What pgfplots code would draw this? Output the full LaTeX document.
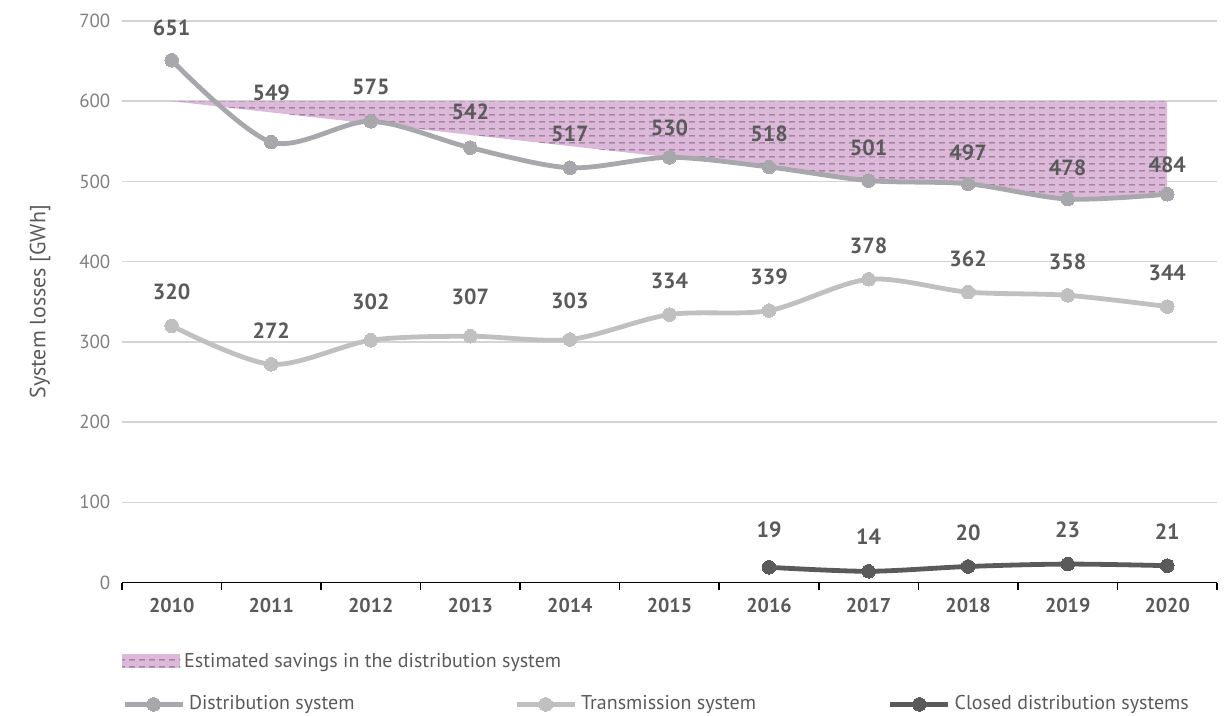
\documentclass[border=0pt]{standalone}
\usepackage{fontspec}
\setmainfont{PT Sans}
\usepackage{pgfplots}
\pgfplotsset{compat=1.18}
\usetikzlibrary{patterns.meta}
\definecolor{distc}{HTML}{A8A8AC}
\definecolor{transc}{HTML}{C0C0C0}
\definecolor{closedc}{HTML}{5A5A5A}
\definecolor{labc}{HTML}{5A5A5A}
\definecolor{tickc}{HTML}{7F7F7F}
\definecolor{gridc}{HTML}{D4D4D4}
\definecolor{pinkc}{HTML}{DDB9D9}
\definecolor{dashc}{HTML}{806884}
\pgfdeclarepattern{
  name=hdashes,
  type=uncolored,
  bottom left={\pgfpoint{0pt}{0pt}},
  top right={\pgfpoint{5pt}{3.3pt}},
  tile size={\pgfpoint{5pt}{3.3pt}},
  code={\pgfsetlinewidth{0.45pt}\pgfpathmoveto{\pgfpoint{0pt}{1.65pt}}\pgfpathlineto{\pgfpoint{3pt}{1.65pt}}\pgfusepath{stroke}}
}
\pgfplotstableread{
x y dy
0 651 16
1 549 24.5
2 575 17
3 542 18
4 517 17
5 530 15
6 518 16.5
7 501 16.5
8 497 15.5
9 478 15.5
10 484 14.5
}\distdata
\pgfplotstableread{
x y dy
0 320 17
1 272 17
2 302 19
3 307 19.5
4 303 19.5
5 334 17
6 339 17
7 378 17
8 362 16.5
9 358 17
10 344 17
}\transdata
\pgfplotstableread{
x y dy
6 19 19
7 14 17.5
8 20 17
9 23 17
10 21 17
}\closeddata
\pgfplotsset{
  lineimg/.style={legend image code/.code={\draw[##1, mark repeat=2, mark phase=2] plot coordinates {(0pt,0pt) (14.5pt,0pt) (29pt,0pt)};}},
  areaimg/.style={legend image code/.code={\path[##1] (0pt,-3.5pt) rectangle (29pt,3.5pt);}},
  labs/.style={nodes near coords,
    visualization depends on={\thisrow{dy} \as \dy},
    every node near coord/.append style={font=\bfseries\fontsize{11}{13}\selectfont, text=labc, anchor=center, yshift=\dy pt}},
}
\begin{document}
\begin{tikzpicture}
\path[use as bounding box] (-61pt,-66.5pt) rectangle (554pt,291.5pt);
\begin{axis}[
  scale only axis, width=548pt, height=281pt,
  xmin=-0.5, xmax=10.5, ymin=0, ymax=700,
  axis x line*=bottom, axis y line*=left,
  y axis line style={draw=none},
  x axis line style={black, line width=0.8pt},
  xtick={0,1,2,3,4,5,6,7,8,9,10},
  xticklabels={2010,2011,2012,2013,2014,2015,2016,2017,2018,2019,2020},
  major x tick style={draw=none},
  minor xtick={-0.5,0.5,1.5,2.5,3.5,4.5,5.5,6.5,7.5,8.5,9.5,10.5},
  minor x tick style={black, line width=0.8pt},
  minor tick length=3.5pt, tick align=outside,
  ytick={0,100,...,700},
  major y tick style={draw=none},
  ymajorgrids, grid style={gridc, line width=0.8pt},
  /pgf/number format/assume math mode=true,
  xticklabel style={font=\bfseries\fontsize{10}{12}\selectfont, text=labc},
  yticklabel style={font=\fontsize{9.5}{11}\selectfont, text=tickc, xshift=2pt},
  ylabel={System losses [GWh]},
  every axis y label/.style={at={(axis description cs:-0.0748,0.5)}, rotate=90, anchor=center, font=\fontsize{11}{13}\selectfont, text=labc},
  legend style={at={(axis description cs:0,-0.217)}, anchor=west, draw=none, fill=none, inner sep=0pt,
    font=\fontsize{10}{12}\selectfont, text=labc,
    /tikz/column 2/.style={column sep=78pt},
    /tikz/column 4/.style={column sep=64pt}},
  legend columns=3,
  legend cell align=left,
]
\addplot[fill=pinkc, draw=none, forget plot, postaction={pattern=hdashes, pattern color=dashc}] coordinates {
(0,600) (10,600) (10,484) (9.5,479) (9,478) (8.5,487) (8,497) (7.5,499) (7,501) (6.5,509) (6,518) (5.5,525) (5,530) (0,600)};
\addplot[distc, line width=2.4pt, smooth, tension=0.5, mark=*, mark size=3.4pt, mark options={fill=distc, draw=distc, line width=0pt}, lineimg, labs] table[x=x, y=y] {\distdata};
\addlegendentry{Distribution system}
\addplot[transc, line width=2.4pt, smooth, tension=0.5, mark=*, mark size=3.4pt, mark options={fill=transc, draw=transc, line width=0pt}, lineimg, labs] table[x=x, y=y] {\transdata};
\addlegendentry{Transmission system}
\addplot[closedc, line width=2.4pt, smooth, tension=0.5, mark=*, mark size=3.4pt, mark options={fill=closedc, draw=closedc, line width=0pt}, lineimg, labs] table[x=x, y=y] {\closeddata};
\addlegendentry{Closed distribution systems}
\end{axis}
\begin{axis}[
  scale only axis, width=548pt, height=281pt,
  xmin=0, xmax=1, ymin=0, ymax=1, hide axis,
  legend style={at={(axis description cs:0,-0.1406)}, anchor=west, draw=none, fill=none, inner sep=0pt,
    font=\fontsize{10}{12}\selectfont, text=labc},
  legend cell align=left,
]
\addlegendimage{fill=pinkc, draw=none, postaction={pattern=hdashes, pattern color=dashc}, areaimg}
\addlegendentry{Estimated savings in the distribution system}
\end{axis}
\end{tikzpicture}
\end{document}
